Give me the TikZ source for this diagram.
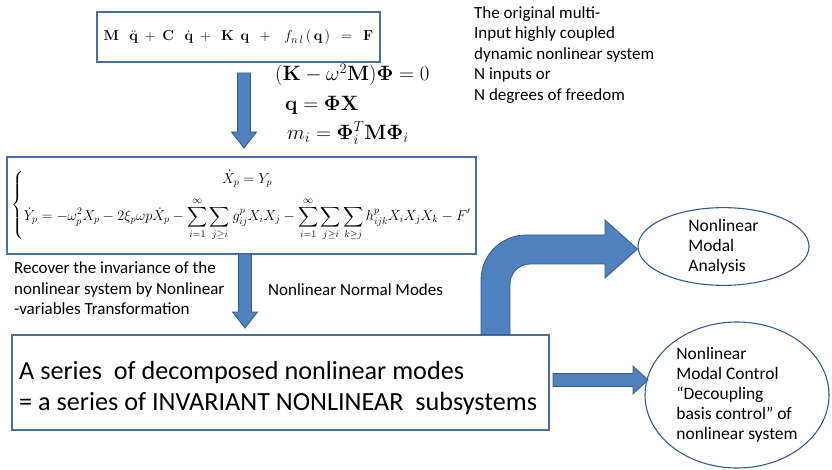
\documentclass[tikz,border=0pt]{standalone}
\usepackage{amsmath,amssymb}
\usepackage[no-math]{fontspec}
\setmainfont{Carlito}
\usetikzlibrary{calc,shapes.geometric}

\definecolor{arrowfill}{HTML}{4F81BD}
\definecolor{arrowline}{HTML}{385D8A}
\definecolor{boxline}{HTML}{4A6E9E}

% fat block arrows between two named points
\newcommand{\fatdown}[2]{\path[fatarrow] let \p1=(#1), \p2=(#2) in
  (\x1-6.5pt,\y1) -- (\x1+6.5pt,\y1) -- (\x1+6.5pt,\y2+16pt) -- (\x1+12.5pt,\y2+16pt)
  -- (\x1,\y2) -- (\x1-12.5pt,\y2+16pt) -- (\x1-6.5pt,\y2+16pt) -- cycle;}
\newcommand{\fatright}[2]{\path[fatarrow] let \p1=(#1), \p2=(#2) in
  (\x1,\y1+6.5pt) -- (\x2-15pt,\y1+6.5pt) -- (\x2-15pt,\y1+14pt) -- (\x2,\y1)
  -- (\x2-15pt,\y1-14pt) -- (\x2-15pt,\y1-6.5pt) -- (\x1,\y1-6.5pt) -- cycle;}

\begin{document}
\begin{tikzpicture}[x=1pt, y=-1pt, every node/.style={font=\fontsize{17}{20.5}\selectfont},
	box/.style={draw=boxline, line width=1.2pt, inner sep=0pt},
	oval/.style={ellipse, draw=arrowline, line width=1.1pt, inner sep=0pt, align=left, font=\fontsize{17.5}{20}\selectfont},
	note/.style={anchor=west, align=left, inner sep=0pt},
	eqn/.style={note, font=\fontsize{20}{24}\selectfont},
	fatarrow/.style={fill=arrowfill, draw=arrowline, line width=0.8pt, line join=miter}]
	\useasboundingbox (0,0) rectangle (832,470);
	\node[box, minimum width=283pt, minimum height=50pt, font=\fontsize{15.5}{18}\selectfont] (motion) at (238.5,37)
		{$\mathbf{M}\ \ \ \ddot{\mathbf{q}}\ +\ \mathbf{C}\ \ \ \dot{\mathbf{q}}\ +\ \ \mathbf{K}\ \ \mathbf{q}\ \ +\ \ \ f_{n\,l}\,(\,\mathbf{q}\,)\ \ =\ \ \mathbf{F}$};
	\node[eqn] (eig) at (275,75) {$(\mathbf{K}-\omega^2\mathbf{M})\mathbf{\Phi}=0$};
	\node[eqn] (trans) at (285,105) {$\mathbf{q}=\mathbf{\Phi}\mathbf{X}$};
	\node[eqn] (mass) at (287,133) {$m_i=\mathbf{\Phi}_i^T\mathbf{M}\mathbf{\Phi}_i$};
	\node[note] (orig) at (474,55) {The original multi-\\Input highly coupled\\dynamic nonlinear system\\N inputs or\\N degrees of freedom};
	\node[box, minimum width=469pt, minimum height=97pt, font=\fontsize{14}{17}\selectfont] (modal) at (241.5,205.5)
		{$\left\{\begin{array}{@{}c@{}}
			\dot{X}_p=Y_p\\[9pt]
			\displaystyle\dot{Y}_p=-\omega_p^2X_p-2\xi_p\omega p\dot{X}_p-\sum_{i=1}^{\infty}\sum_{j\ge i}g_{ij}^pX_iX_j-\sum_{i=1}^{\infty}\sum_{j\ge i}\sum_{k\ge j}h_{ijk}^pX_iX_jX_k-F'
		\end{array}\right.$};
	\node[note] (recover) at (14,288.5) {Recover the invariance of the\\nonlinear system by Nonlinear\\-variables Transformation};
	\node[note] (nnm) at (268,290) {Nonlinear Normal Modes};
	\node[box, minimum width=537pt, minimum height=95pt] (series) at (280.5,382.5) {};
	\node[note, font=\fontsize{26.2}{31}\selectfont] (seriestext) at (19,388)
		{A series\ \ of decomposed nonlinear modes\\= a series of INVARIANT NONLINEAR\ \ subsystems};
	\node[oval, minimum width=171pt, minimum height=73pt] (nma) at (723.5,246.5) {Nonlinear\\Modal\\Analysis};
	\node[oval, minimum width=184pt, minimum height=146pt] (nmc) at (737,395) {Nonlinear\\Modal Control\\“Decoupling\\basis control” of\\nonlinear system};
	% connectors
	\coordinate (a1s) at (244,73);
	\coordinate (a1e) at (244,148);
	\fatdown{a1s}{a1e}
	\coordinate (a2s) at (245,254);
	\coordinate (a2e) at (245,328);
	\fatdown{a2s}{a2e}
	\coordinate (a3s) at (553,380);
	\coordinate (a3e) at (648,380);
	\fatright{a3s}{a3e}
	\draw[fatarrow] (series.north -| 481,0) -- (481,280) arc[start angle=180, end angle=270, radius=45]
		-- (605,235) -- (605,220) -- (nma.west |- 0,249) -- (605,278) -- (605,264) -- (530,264)
		arc[start angle=270, end angle=180, radius=20] -- (series.north -| 510,0) -- cycle;
\end{tikzpicture}
\end{document}
